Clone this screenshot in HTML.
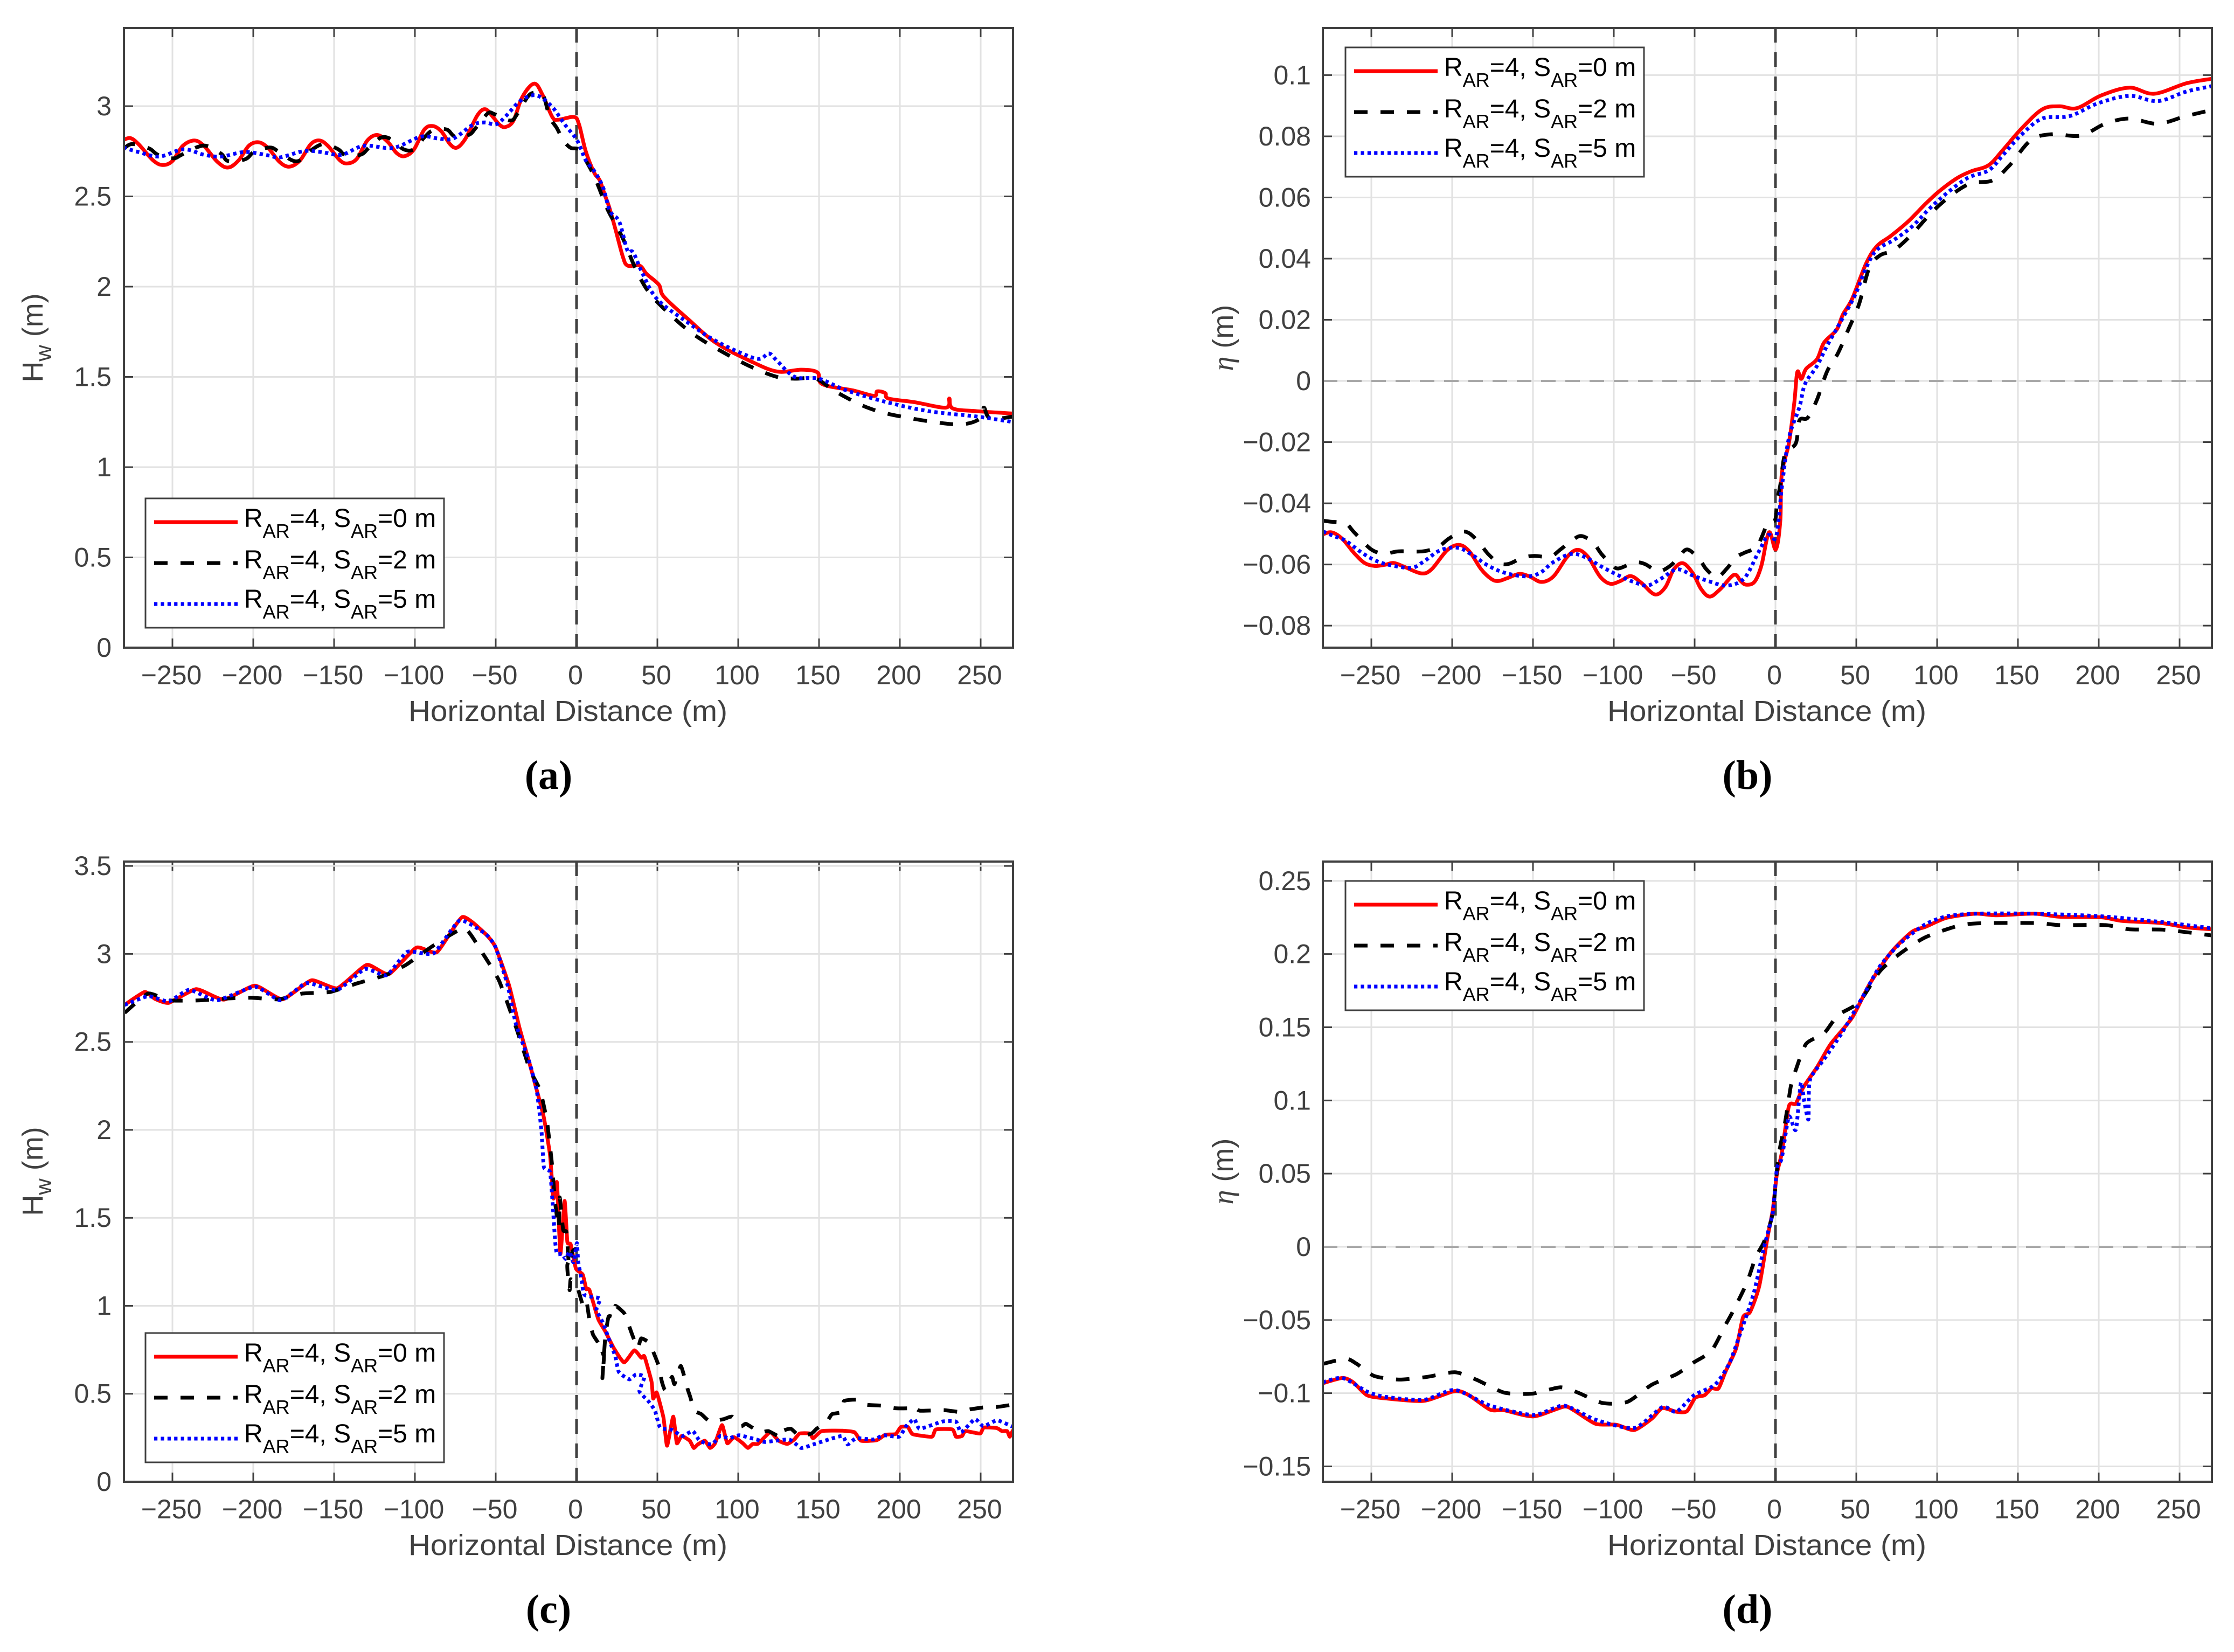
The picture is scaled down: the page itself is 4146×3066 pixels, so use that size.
<!DOCTYPE html>
<html lang="en">
<head>
<meta charset="utf-8">
<title>Wave height and setup versus horizontal distance</title>
<style>
html,body{margin:0;padding:0;background:#fff;}
svg{display:block;}
text{font-family:"Liberation Sans",sans-serif;}
</style>
</head>
<body>
<svg id="figure" xmlns="http://www.w3.org/2000/svg" width="4146" height="3066" viewBox="0 0 4146 3066">
<rect x="0" y="0" width="4146" height="3066" fill="#fff"/>
</svg>
<script>
// ---------- shared tick data ----------
const xTickValues = [-250,-200,-150,-100,-50,0,50,100,150,200,250];
const xTickLabels = ['−250','−200','−150','−100','−50','0','50','100','150','200','250'];
const aYTickValues = [0,0.5,1,1.5,2,2.5,3];
const aYTickLabels = ['0','0.5','1','1.5','2','2.5','3'];
const bYTickValues = [-0.08,-0.06,-0.04,-0.02,0,0.02,0.04,0.06,0.08,0.1];
const bYTickLabels = ['−0.08','−0.06','−0.04','−0.02','0','0.02','0.04','0.06','0.08','0.1'];
const cYTickValues = [0,0.5,1,1.5,2,2.5,3,3.5];
const cYTickLabels = ['0','0.5','1','1.5','2','2.5','3','3.5'];
const dYTickValues = [-0.15,-0.1,-0.05,0,0.05,0.1,0.15,0.2,0.25];
const dYTickLabels = ['−0.15','−0.1','−0.05','0','0.05','0.1','0.15','0.2','0.25'];
const legendValues = ['0','2','5'];

// ---------- panel a ----------
const aRedX = [-280.4,-276,-271,-262,-256,-250,-243.6,-236.4,-230.5,-222,-215.5,-209,-202.8,-196.8,-191,-183.6,-177.6,-171,-164.4,-159,-153.8,-146.4,-141.5,-135.8,-129.4,-123,-116.6,-111.3,-106.4,-100.6,-94.2,-89,-83.6,-78.3,-74,-68.7,-61.3,-56.4,-51.7,-47.4,-43.8,-39,-33.6,-26.2,-20.9,-15,-11.3,-1.7,1.5,5.7,11,14.3,17.4,20,24,28.5,31.5,39,43.4,51,54,69,86,107,124,139,149,152,171,184,186,191,193,209,228.5,230.6,232.8,247.7,270];
const aRedY = [2.813,2.823,2.79,2.70,2.674,2.696,2.78,2.81,2.78,2.69,2.66,2.70,2.78,2.80,2.77,2.69,2.665,2.70,2.79,2.81,2.78,2.70,2.683,2.71,2.81,2.84,2.80,2.74,2.723,2.76,2.87,2.89,2.86,2.79,2.77,2.82,2.95,2.983,2.94,2.895,2.885,2.92,3.05,3.125,3.06,2.94,2.925,2.94,2.90,2.75,2.63,2.59,2.51,2.446,2.32,2.17,2.117,2.117,2.07,2.01,1.945,1.82,1.69,1.59,1.53,1.54,1.525,1.46,1.425,1.395,1.42,1.41,1.38,1.36,1.33,1.38,1.325,1.31,1.297];
const aBlackX = [-280.4,-275,-264.5,-259,-249.6,-244.3,-234.7,-228.3,-219.8,-215.5,-204.9,-199.6,-190,-184.7,-176.2,-170.9,-163.4,-156,-147.4,-143.2,-133.6,-128.3,-120.9,-114.5,-107,-100.6,-94.3,-88.9,-80.4,-75.1,-66.6,-62.3,-54.9,-50.6,-41,-36.8,-30.4,-26.2,-20.9,-16.6,-12.3,-8.1,-3.8,1.5,5.7,11,16.4,19.6,28.5,37,45.5,58,71,86,107,124,135,148,160,180,201,235,250,252,256,270];
const aBlackY = [2.761,2.79,2.766,2.731,2.711,2.731,2.773,2.779,2.736,2.696,2.706,2.746,2.771,2.751,2.701,2.701,2.761,2.791,2.761,2.731,2.731,2.771,2.826,2.816,2.761,2.761,2.826,2.866,2.871,2.831,2.841,2.88,2.96,2.955,2.92,2.955,3.05,3.075,3.065,2.94,2.88,2.81,2.77,2.76,2.70,2.61,2.49,2.42,2.27,2.09,1.96,1.845,1.745,1.66,1.56,1.50,1.49,1.49,1.42,1.33,1.28,1.237,1.27,1.33,1.27,1.28];
const aBlueX = [-280.4,-271,-258,-243.2,-230.5,-219.8,-204.9,-190,-183.6,-168.7,-158,-145.3,-131.5,-113.4,-96.4,-85.7,-76.2,-64.5,-57,-49.6,-43.2,-34.7,-25.1,-15.5,-7,0.4,5.7,11,16.4,20.6,26.4,31.5,35,41,50,69,86,105,113.6,119,124,135,150,167,192,218,248,270];
const aBlueY = [2.771,2.746,2.721,2.761,2.731,2.721,2.746,2.726,2.716,2.751,2.746,2.731,2.781,2.769,2.831,2.821,2.821,2.895,2.91,2.90,2.95,3.03,3.06,3.0,2.895,2.81,2.70,2.64,2.55,2.42,2.36,2.2,2.19,2.07,1.93,1.80,1.70,1.62,1.60,1.63,1.59,1.50,1.49,1.425,1.36,1.31,1.28,1.25];

// ---------- panel b ----------
const bRedX = [-279.8,-274.5,-268,-260.6,-254.2,-247.9,-241.5,-236.2,-229.8,-219.2,-212.8,-203.2,-195.8,-189.4,-182,-175.6,-171.3,-166,-158.6,-152.2,-144.8,-137.3,-128.8,-122.4,-116,-108.6,-102.3,-95.9,-89.5,-83,-74.6,-68.2,-62.9,-57.2,-51.2,-45.9,-40.6,-34.2,-25.7,-21.5,-18.3,-13,-8.7,-4,0.2,3,3.9,8.3,11.7,13.5,16,19,25.7,30,37.8,41.7,47.4,56,62.6,71.3,82,93,101.7,112.6,121.3,132,141,152,165,175.6,186.5,201.7,219,234.3,254,270];
const bRedY = [-.0501,-.0495,-.0516,-.0563,-.0595,-.0605,-.0601,-.0595,-.0607,-.0629,-.0616,-.0554,-.0536,-.0557,-.0616,-.0648,-.0654,-.0645,-.0631,-.0639,-.0657,-.0639,-.0575,-.0552,-.0575,-.0639,-.0663,-.0654,-.0638,-.066,-.0698,-.0675,-.0616,-.0596,-.0628,-.0681,-.0705,-.0681,-.0634,-.0654,-.0666,-.0657,-.0604,-.0495,-.0551,-.0457,-.0305,-.0204,-.0069,.0029,.0007,.004,.0071,.0125,.0167,.0217,.0268,.0383,.044,.0474,.0521,.058,.0622,.0664,.0686,.0706,.0757,.0824,.0888,.0898,.0892,.0934,.0959,.0939,.0973,.0988];
const bBlackX = [-279.8,-275.5,-266,-260.6,-250,-241.5,-233,-218,-208.6,-202.2,-194.7,-189.4,-183,-177.7,-171.3,-165,-156.5,-149,-139.5,-133,-126.7,-120.3,-112.9,-107.6,-101.2,-97,-87.4,-81,-72.5,-65,-59.7,-54.4,-47,-42.7,-36.3,-30,-24.7,-19.3,-11.9,-8.7,-4.5,-0.2,0.9,3,6,12.6,14.8,20,25.7,32,38.7,45,51.7,58,64.8,73.5,84.3,97.4,110.4,121.3,134.3,145,158,171.3,188.7,204,219,236.5,254,270];
const bBlackY = [-.0457,-.046,-.0466,-.0495,-.0551,-.0564,-.0557,-.0557,-.0542,-.0516,-.0494,-.0498,-.0531,-.0566,-.0595,-.0598,-.0578,-.0572,-.0575,-.0551,-.0525,-.0507,-.0528,-.0566,-.0601,-.0613,-.0594,-.0598,-.0622,-.0604,-.0575,-.0551,-.0584,-.0616,-.0642,-.0613,-.0578,-.0562,-.0545,-.0513,-.0463,-.0454,-.0398,-.034,-.0238,-.0204,-.0129,-.012,-.0061,.0032,.0091,.0167,.0251,.0369,.0411,.0428,.0479,.0555,.0614,.0647,.0656,.0706,.0787,.0807,.0802,.0841,.0858,.0841,.0866,.0886];
const bBlueX = [-279.8,-273.3,-266,-256.3,-247.9,-239.3,-225.5,-218,-207.5,-196.9,-188.4,-177.7,-167,-154.3,-145.8,-137.3,-126.7,-118.2,-107.6,-97,-86.3,-78.9,-70.4,-60.8,-51.2,-41.7,-30,-19.3,-10.8,-4.5,-.2,1.9,4,8.3,14.8,18.3,25.7,32,41,49.6,56,62.6,73.5,84.3,95.2,106,119,132,141,152,165,182,199.6,219,236.5,254,270];
const bBlueY = [-.0492,-.0507,-.0522,-.056,-.0586,-.0601,-.0611,-.0592,-.0554,-.0545,-.0566,-.0604,-.0628,-.0639,-.0628,-.0592,-.0566,-.0575,-.0607,-.0636,-.066,-.0669,-.0645,-.0616,-.0636,-.0654,-.0669,-.0645,-.0563,-.0504,-.0516,-.0457,-.0345,-.0187,-.0086,-.001,.0049,.0116,.02,.0285,.0369,.0428,.0462,.0504,.0563,.0614,.0664,.0689,.074,.0804,.0858,.0866,.0908,.0932,.0915,.0946,.0964];

// ---------- panel c ----------
const cRedX = [-279.6,-267.2,-260.9,-252.3,-235.3,-218.3,-199,-182,-164,-148,-129.8,-116.2,-99.1,-86.4,-70.6,-56.6,-50.2,-41.7,-35.3,-29,-25.5,-20.4,-16.4,-14.3,-12.1,-10,-7.4,-5.7,-3.6,-.4,3.8,6,8,13.4,17.7,23,29.4,35.7,40,42,46.4,47.4,49.6,53.8,56,59.8,62,65,70,72.5,75,79.4,82.6,85.7,90,93.2,97.4,102.8,106,109,112.3,119.8,125,130.4,134.7,138,144.3,146.4,151.7,164.5,172,176,185.7,191,197.4,200.6,205,208,219.8,222.3,232.5,234.7,238.5,240.6,249.6,252,260,263.2,266.4,268,270];
const cRedY = [2.71,2.784,2.745,2.722,2.80,2.74,2.82,2.742,2.85,2.805,2.938,2.885,3.036,3.01,3.21,3.116,3.04,2.82,2.58,2.375,2.256,2.078,1.856,1.61,1.70,1.295,1.596,1.363,1.349,1.212,1.178,1.096,1.089,.925,.856,.76,.678,.747,.705,.712,.568,.473,.507,.363,.205,.37,.219,.26,.233,.192,.212,.233,.192,.219,.322,.219,.253,.219,.192,.215,.216,.281,.233,.215,.24,.274,.274,.247,.288,.29,.281,.233,.236,.267,.271,.311,.311,.27,.256,.297,.297,.256,.26,.288,.274,.308,.305,.288,.288,.256,.294];
const cBlackX = [-279.6,-265,-252.3,-233,-220.4,-201.3,-184.3,-169.4,-152.3,-135.3,-118.3,-105.5,-88.5,-69.4,-58.7,-48,-37.4,-29,-22.6,-18.3,-15.3,-13.2,-11,-10.4,-8.3,-6.2,-4.7,-2.6,-.4,-5.7,-4.3,-3.6,.2,3.8,6,8.1,10.2,13.4,14.5,17,16,17.7,19.8,23,24,29.4,31.5,34.7,37.9,40,45.3,47.4,50.6,52.8,54.9,59,60.6,64.5,68.7,70.2,73,77.2,82.6,91,96.4,101.7,104.9,113.4,118.7,126.2,127.2,132.6,137.9,145.3,148.5,154.9,158,164.5,165.5,174,179.4,189,196.4,206,208,212.3,227.2,236.8,243.2,253.8,260,269.8];
const cBlackY = [2.665,2.775,2.736,2.736,2.745,2.751,2.742,2.775,2.784,2.834,2.879,2.938,3.048,3.146,3.012,2.849,2.582,2.345,2.227,2.049,1.815,1.582,1.445,1.616,1.432,1.418,1.233,1.308,1.322,1.233,1.089,1.151,1.116,1.007,1.034,.911,.836,.788,.726,.726,.589,.815,.938,.938,1.0,.959,.911,.829,.76,.815,.788,.74,.664,.568,.521,.596,.555,.658,.527,.486,.404,.384,.342,.356,.37,.315,.329,.281,.288,.253,.288,.301,.26,.274,.301,.342,.384,.397,.459,.466,.438,.432,.418,.418,.432,.404,.407,.397,.411,.425,.425,.438];
const cBlueX = [-279.6,-265,-252.3,-239.6,-222.6,-199,-183,-167.2,-148,-131,-117.4,-104.7,-88.5,-72.3,-56.6,-50.2,-42.6,-37.4,-29.8,-24.7,-21.7,-20.2,-16.4,-14.9,-13.2,-12.1,-8.9,-6.8,-4.3,-1.9,.2,1,3.2,4.9,14.5,12.3,16.6,20.9,24,26.2,32.6,36.8,42,38.9,44.3,48.5,51.7,59,65.5,71.9,76.2,83.6,88.9,94.3,100.6,111.3,116.6,131.5,138.9,146.4,156,164.5,167.7,173,183.6,190,199.6,203.8,209,212.3,226.2,234.7,237.9,246.4,251.7,260.2,270.9];
const cBlueY = [2.71,2.76,2.73,2.796,2.736,2.814,2.736,2.834,2.796,2.914,2.879,3.012,3.003,3.19,3.116,3.04,2.82,2.597,2.404,2.227,1.993,1.788,1.76,1.596,1.363,1.295,1.295,1.267,1.308,1.247,1.356,1.253,1.144,1.062,1.041,.979,.897,.788,.712,.623,.582,.61,.596,.514,.459,.404,.308,.295,.26,.288,.233,.212,.26,.247,.264,.24,.226,.24,.192,.212,.24,.26,.212,.247,.24,.264,.256,.315,.356,.301,.342,.342,.281,.356,.315,.349,.308];

// ---------- panel d ----------
const dRedX = [-280,-267.8,-261.3,-252.6,-241.7,-217.8,-198.3,-189.6,-176.5,-167.8,-149.6,-130.9,-124.3,-111.3,-98.3,-87.4,-76.5,-70,-61.3,-54.8,-49.6,-43.9,-39.6,-35.2,-30.9,-24.3,-20,-15.7,-10,-4.8,-1.7,.9,3.9,8.3,12.6,17,25.7,34.3,47.4,58.3,71.3,84.3,93,106,123.5,136.5,160.4,175.7,201.7,214.8,238.7,254,270];
const dRedY = [-.0932,-.0896,-.0925,-.1014,-.1035,-.1053,-.0985,-.1014,-.1113,-.1117,-.1159,-.1092,-.112,-.1209,-.1216,-.1252,-.1174,-.1102,-.1127,-.1124,-.1031,-.1014,-.0967,-.0967,-.0853,-.0693,-.048,-.0445,-.0267,.0071,.0249,.0498,.064,.096,.0978,.1085,.1227,.1387,.1565,.1796,.2009,.2151,.2187,.2248,.2276,.2265,.2276,.2255,.2251,.2226,.2212,.2183,.2169];
const dBlackX = [-280,-265.7,-259,-248.3,-233,-215.7,-198.3,-185.2,-167.8,-150.4,-133,-122.2,-107,-91.7,-76.5,-61.3,-50.4,-39.6,-30.9,-26.5,-17.8,-12.2,-7,-1.7,1.7,6,9.6,12.6,19,30,38.7,51.7,64.8,77.8,93,114.8,132.2,162.6,175.7,204,219,240.9,270];
const dBlackY = [-.08,-.0765,-.08,-.0882,-.0907,-.0889,-.0857,-.0907,-.0996,-.1003,-.096,-.0996,-.1067,-.106,-.0942,-.0871,-.0789,-.0711,-.0533,-.0445,-.0249,-.0071,.0036,.0231,.0605,.0853,.1102,.1209,.1387,.1458,.1582,.1671,.1885,.2009,.2116,.2198,.2212,.2212,.2198,.2198,.2169,.2166,.2127];
const dBlueX = [-280,-267.8,-252.6,-241.7,-217.8,-198.3,-176.5,-149.6,-130.9,-111.3,-87.4,-70,-61.3,-50.4,-37.4,-28.7,-22.2,-13.5,-7,-1.7,.9,3.9,8.3,12.6,15.7,17.8,20.4,21.3,30,40.9,53.9,64.8,77.8,93,106,123.5,160.4,201.7,238.7,270];
const dBlueY = [-.0925,-.0896,-.0989,-.1024,-.1046,-.0978,-.1085,-.1149,-.1085,-.1181,-.1238,-.1095,-.1127,-.1014,-.0942,-.08,-.0605,-.032,0,.0231,.0533,.0605,.0889,.08,.112,.0996,.0871,.1138,.128,.1458,.1707,.192,.208,.2205,.2258,.2276,.2276,.2258,.2219,.2176];

// ---------- layout (pixels) ----------
const NS = 'http://www.w3.org/2000/svg';
const svg = document.getElementById('figure');
const TEXT = '#404040';
const XMIN = -280, XMAX = 270;

const panels = [
  {id:'a', left:230, right:1880, top:52, bottom:1202, ymin:0, ymax:3.433, yv:aYTickValues, yl:aYTickLabels,
   zero:false, eta:false, tickEnd:207, yLabelX:61, yLabelY:627, xTickBase:1270, xLabelBase:1338,
   legL:270, legT:925, capX:1018, capY:1464, tension:1,
   red:[aRedX,aRedY], black:[aBlackX,aBlackY], blue:[aBlueX,aBlueY]},
  {id:'b', left:2455, right:4105, top:52, bottom:1202, ymin:-0.0872, ymax:0.1154, yv:bYTickValues, yl:bYTickLabels,
   zero:true, eta:true, tickEnd:2433, yLabelX:2270, yLabelY:627, xTickBase:1270, xLabelBase:1338,
   legL:2497, legT:88, capX:3243, capY:1464, tension:1,
   red:[bRedX,bRedY], black:[bBlackX,bBlackY], blue:[bBlueX,bBlueY]},
  {id:'c', left:230, right:1880, top:1599, bottom:2750, ymin:0, ymax:3.525, yv:cYTickValues, yl:cYTickLabels,
   zero:false, eta:false, tickEnd:207, yLabelX:61, yLabelY:2174, xTickBase:2818, xLabelBase:2886,
   legL:270, legT:2474, capX:1018, capY:3012, tension:0.5,
   red:[cRedX,cRedY], black:[cBlackX,cBlackY], blue:[cBlueX,cBlueY]},
  {id:'d', left:2455, right:4105, top:1599, bottom:2750, ymin:-0.1605, ymax:0.2632, yv:dYTickValues, yl:dYTickLabels,
   zero:true, eta:true, tickEnd:2433, yLabelX:2270, yLabelY:2174, xTickBase:2818, xLabelBase:2886,
   legL:2497, legT:1635, capX:3243, capY:3012, tension:0.7,
   red:[dRedX,dRedY], black:[dBlackX,dBlackY], blue:[dBlueX,dBlueY]}
];

const seriesStyles = [
  {key:'red',   color:'#ff0000', dash:'none'},
  {key:'black', color:'#000000', dash:'25 24'},
  {key:'blue',  color:'#0000ff', dash:'6.2 6.2'}
];

function make(parent, tag, attrs, txt) {
  const el = document.createElementNS(NS, tag);
  for (const k in attrs) el.setAttribute(k, attrs[k]);
  if (txt !== undefined) el.textContent = txt;
  parent.appendChild(el);
  return el;
}

function splinePath(xs, ys, sx, sy, tension) {
  const px = xs.map(sx), py = ys.map(sy);
  let d = 'M' + px[0].toFixed(1) + ' ' + py[0].toFixed(1);
  const k = tension / 6;
  for (let i = 0; i < px.length - 1; i++) {
    const i0 = Math.max(i - 1, 0), i3 = Math.min(i + 2, px.length - 1);
    const c1x = px[i] + (px[i + 1] - px[i0]) * k, c1y = py[i] + (py[i + 1] - py[i0]) * k;
    const c2x = px[i + 1] - (px[i3] - px[i]) * k, c2y = py[i + 1] - (py[i3] - py[i]) * k;
    d += 'C' + c1x.toFixed(1) + ' ' + c1y.toFixed(1) + ' ' + c2x.toFixed(1) + ' ' + c2y.toFixed(1) + ' ' + px[i + 1].toFixed(1) + ' ' + py[i + 1].toFixed(1);
  }
  return d;
}

panels.forEach(function (p) {
  const sx = function (v) { return p.left + (v - XMIN) / (XMAX - XMIN) * (p.right - p.left); };
  const sy = function (v) { return p.bottom - (v - p.ymin) / (p.ymax - p.ymin) * (p.bottom - p.top); };

  const g = make(svg, 'g', {});
  
  

  const defs = make(g, 'defs', {});
  const cp = make(defs, 'clipPath', {id: 'clip-' + p.id});
  make(cp, 'rect', {x: p.left, y: p.top, width: p.right - p.left, height: p.bottom - p.top});

  // grid + ticks (x)
  xTickValues.forEach(function (v, i) {
    const x = sx(v);
    const gl = make(g, 'line', {x1: x, x2: x, y1: p.top, y2: p.bottom, stroke: '#e2e2e2', 'stroke-width': 3});
    
    
    const t1 = make(g, 'line', {x1: x, x2: x, y1: p.bottom, y2: p.bottom - 17, stroke: TEXT, 'stroke-width': 3});
    
    
    const t2 = make(g, 'line', {x1: x, x2: x, y1: p.top, y2: p.top + 17, stroke: TEXT, 'stroke-width': 3});
    
    
    const lb = make(g, 'text', {x: x - 2, y: p.xTickBase, 'text-anchor': 'middle', 'font-size': 50, fill: TEXT}, xTickLabels[i]);
    
    
  });

  // grid + ticks (y)
  p.yv.forEach(function (v, i) {
    const y = sy(v);
    const gl = make(g, 'line', {x1: p.left, x2: p.right, y1: y, y2: y, stroke: '#e2e2e2', 'stroke-width': 3});
    
    
    const t1 = make(g, 'line', {x1: p.left, x2: p.left + 17, y1: y, y2: y, stroke: TEXT, 'stroke-width': 3});
    
    
    const t2 = make(g, 'line', {x1: p.right, x2: p.right - 17, y1: y, y2: y, stroke: TEXT, 'stroke-width': 3});
    
    
    const lb = make(g, 'text', {x: p.tickEnd, y: y + 17, 'text-anchor': 'end', 'font-size': 50, fill: TEXT}, p.yl[i]);
    
    
  });

  // reference lines
  if (p.zero) {
    const z = make(g, 'line', {x1: p.left, x2: p.right, y1: sy(0), y2: sy(0), stroke: '#a8a8a8', 'stroke-width': 4, 'stroke-dasharray': '27 18'});
    
    
  }
  const v0 = make(g, 'line', {x1: sx(0), x2: sx(0), y1: p.top, y2: p.bottom, stroke: '#404040', 'stroke-width': 5, 'stroke-dasharray': '27 18'});
  
  

  // series
  const plot = make(g, 'g', {'clip-path': 'url(#clip-' + p.id + ')'});
  
  
  seriesStyles.forEach(function (s) {
    const arr = p[s.key];
    const path = make(plot, 'path', {
      d: splinePath(arr[0], arr[1], sx, sy, p.tension),
      fill: 'none', stroke: s.color, 'stroke-width': 7, 'stroke-linejoin': 'round',
      'stroke-dasharray': s.dash
    });
    
    
  });

  // axes box
  const box = make(g, 'rect', {x: p.left, y: p.top, width: p.right - p.left, height: p.bottom - p.top, fill: 'none', stroke: '#404040', 'stroke-width': 4});
  
  

  // x axis title
  const xt = make(g, 'text', {x: (p.left + p.right) / 2 - 1, y: p.xLabelBase, 'text-anchor': 'middle', 'font-size': 54, fill: TEXT, textLength: 592, lengthAdjust: 'spacingAndGlyphs'}, 'Horizontal Distance (m)');
  
  

  // y axis title
  const yt = make(g, 'text', {x: 0, y: 0, 'text-anchor': 'middle', 'font-size': 54, fill: TEXT, transform: 'translate(' + (p.yLabelX + 18) + ' ' + p.yLabelY + ') rotate(-90)'});
  
  
  if (p.eta) {
    make(yt, 'tspan', {'font-family': '"Liberation Serif",serif', 'font-style': 'italic'}, 'η');
    make(yt, 'tspan', {}, ' (m)');
  } else {
    make(yt, 'tspan', {}, 'H');
    make(yt, 'tspan', {'font-size': 42, dy: 16}, 'w');
    make(yt, 'tspan', {dy: -16}, ' (m)');
  }

  // legend
  const lg = make(g, 'g', {});
  
  
  const lbx = make(lg, 'rect', {x: p.legL, y: p.legT, width: 554, height: 240, fill: '#fff', stroke: '#404040', 'stroke-width': 3});
  
  
  const rowLine = [44, 120, 196], rowText = [53, 130, 203];
  seriesStyles.forEach(function (s, i) {
    const ln = make(lg, 'line', {x1: p.legL + 16, x2: p.legL + 171, y1: p.legT + rowLine[i], y2: p.legT + rowLine[i], stroke: s.color, 'stroke-width': 7, 'stroke-dasharray': s.dash});
    
    
    const tx = make(lg, 'text', {x: p.legL + 183, y: p.legT + rowText[i], 'font-size': 48, fill: '#000'});
    
    
    make(tx, 'tspan', {}, 'R');
    make(tx, 'tspan', {'font-size': 36, dy: 20}, 'AR');
    make(tx, 'tspan', {dy: -20}, '=4, S');
    make(tx, 'tspan', {'font-size': 36, dy: 20}, 'AR');
    make(tx, 'tspan', {dy: -20}, '=' + legendValues[i] + ' m');
  });

  // caption
  const cap = make(g, 'text', {x: p.capX, y: p.capY, 'text-anchor': 'middle', 'font-size': 76, fill: '#000', 'font-weight': 'bold', style: 'font-family:"Liberation Serif",serif'}, '(' + p.id + ')');
  
  
});
</script>
</body>
</html>
